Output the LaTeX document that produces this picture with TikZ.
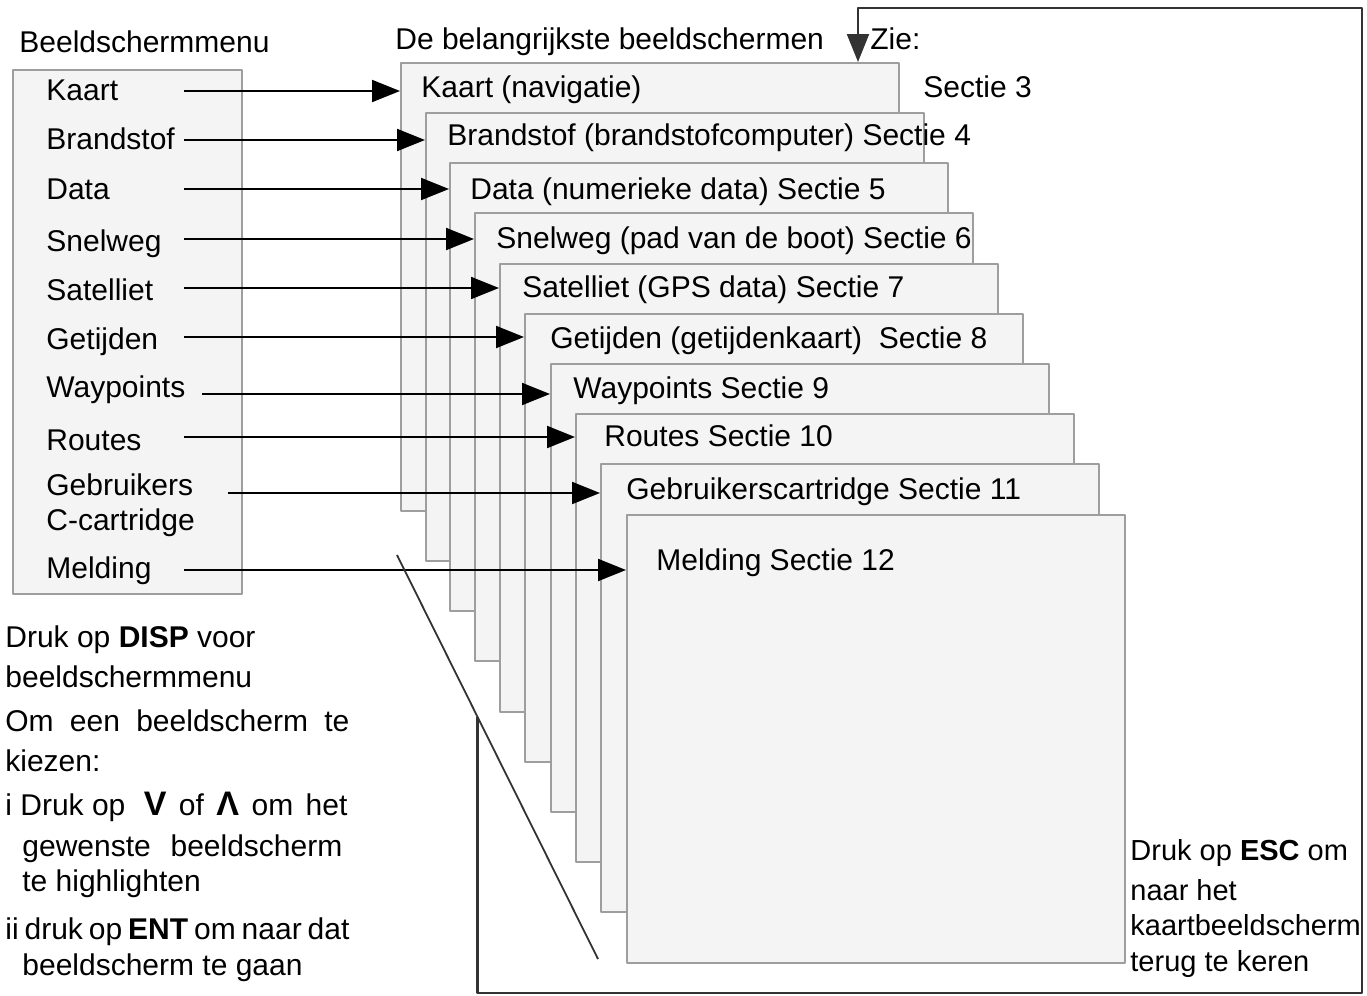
\documentclass[tikz,border=0pt]{standalone}
\usepackage{fontspec}
\setmainfont{Liberation Sans}
\usetikzlibrary{
    arrows.meta,
    calc,
    positioning
}
\definecolor{cardfill}{gray}{0.955}
\definecolor{cardedge}{gray}{0.62}
\definecolor{loopline}{gray}{0.2}

\begin{document}
\begin{tikzpicture}[x=0.5pt, y=-0.5pt, >={Triangle[length=14pt,width=11pt]}, line join=round]
  \def\cw{249pt}   % card width
  \def\ch{224pt}   % card height

  \tikzset{
    card/.style={draw=cardedge, fill=cardfill, line width=0.8pt, anchor=north west,
      inner sep=0pt, minimum width=\cw, minimum height=\ch},
    txt/.style={anchor=base west, inner sep=0pt, font=\fontsize{15}{18}\selectfont},
    para/.style={txt, align=left},
    link/.style={->, line width=1pt},
    back/.style={draw=loopline, line width=1.1pt}
  }
  \newcommand{\keysym}[1]{\textbf{\fontsize{17}{18}\selectfont #1}}

  \useasboundingbox (0,0) rectangle (1367,996);

  % Menu
  \node[txt] (mtitle) at (19,52) {Beeldschermmenu};
  \node[card, minimum width=114.5pt, minimum height=262pt] (menu) at (12,69) {};
  \node[txt] (m0) at (46,100) {Kaart};
  \node[txt] (m1) at (46,149) {Brandstof};
  \node[txt] (m2) at (46,199) {Data};
  \node[txt] (m3) at (46,251) {Snelweg};
  \node[txt] (m4) at (46,300) {Satelliet};
  \node[txt] (m5) at (46,349) {Getijden};
  \node[txt] (m6) at (46,397) {Waypoints};
  \node[txt] (m7) at (46,450) {Routes};
  \node[para] (m8) at (46,530) {Gebruikers\\[-0.5pt]C-cartridge};   % base = last line
  \node[txt] (m9) at (46,578) {Melding};

  % Stack of screens
  \node[txt] (stitle) at (395,49) {De belangrijkste beeldschermen};
  \node[txt] (zie) at (870,49) {Zie:};
  \node[txt] (s3) at (923,97) {Sectie 3};

  \node[card] (k0) at (400,62) {};
  \node[txt] (t0) at (421,97) {Kaart (navigatie)};
  \node[card] (k1) at (425,112) {};
  \node[txt] (t1) at (447,145) {Brandstof (brandstofcomputer) Sectie 4};
  \node[card] (k2) at (449,162) {};
  \node[txt] (t2) at (470,199) {Data (numerieke data) Sectie 5};
  \node[card] (k3) at (474,212) {};
  \node[txt] (t3) at (496,248) {Snelweg (pad van de boot) Sectie 6};
  \node[card] (k4) at (499,263) {};
  \node[txt] (t4) at (522,297) {Satelliet (GPS data) Sectie 7};
  \node[card] (k5) at (524,313) {};
  \node[txt] (t5) at (550,348) {Getijden (getijdenkaart)~ Sectie 8};
  \node[card] (k6) at (550,363) {};
  \node[txt] (t6) at (573,398) {Waypoints Sectie 9};
  \node[card] (k7) at (575,413) {};
  \node[txt] (t7) at (604,446) {Routes Sectie 10};
  \node[card] (k8) at (600,463) {};
  \node[txt] (t8) at (626,499) {Gebruikerscartridge Sectie 11};
  \node[card] (k9) at (626,514) {};
  \node[txt] (t9) at (656,570) {Melding Sectie 12};

  % Menu entries to screens
  \coordinate (a0) at (184,91);
  \coordinate (a1) at (184,140);
  \coordinate (a2) at (184,189);
  \coordinate (a3) at (184,239);
  \coordinate (a4) at (184,288);
  \coordinate (a5) at (184,337);
  \coordinate (a6) at (202,394);
  \coordinate (a7) at (184,437);
  \coordinate (a8) at (228,493);
  \coordinate (a9) at (184,570);
  \draw[link] (a0) -- (a0 -| k0.west);
  \draw[link] (a1) -- (a1 -| k1.west);
  \draw[link] (a2) -- (a2 -| k2.west);
  \draw[link] (a3) -- (a3 -| k3.west);
  \draw[link] (a4) -- (a4 -| k4.west);
  \draw[link] (a5) -- (a5 -| k5.west);
  \draw[link] (a6) -- (a6 -| k6.west);
  \draw[link] (a7) -- (a7 -| k7.west);
  \draw[link] (a8) -- (a8 -| k8.west);
  \draw[link] (a9) -- (a9 -| k9.west);

  % Side of the stack and the way back
  \coordinate (d0) at (397,555);
  \coordinate (d1) at (598,959);
  \draw[draw=loopline, line width=0.9pt] (d0) -- (d1);
  \coordinate (lp) at ($(d0)!0.4!(d1)$);
  \draw[back, ->] (lp) -- (lp |- 0,993) -| (1362,8) -| (858,0 |- k0.north);

  % Help texts (anchored on the baseline of their last line)
  \node[para] (help1) at (5,687) {Druk op \textbf{DISP} voor\\[2pt]beeldschermmenu};
  \node[para] (help2) at (5,771) {\makebox[172pt][s]{Om een beeldscherm te}\\[2pt]kiezen:};
  \node[para] (help3) at (5,891) {\makebox[171pt][s]{\mbox{i Druk op}\hspace{3pt} \keysym{V} of \keysym{Λ} om het}\\[2.5pt]
    \hspace*{8.5pt}\makebox[160pt][s]{gewenste beeldscherm}\\[-0.5pt]
    \hspace*{8.5pt}te highlighten};
  \node[para] (help4) at (5,975) {\makebox[172pt][s]{ii druk op \textbf{ENT} om naar dat}\\
    \hspace*{8.5pt}beeldscherm te gaan};
  \node[para, font=\fontsize{14.5}{18}\selectfont] (esc) at (1130,971)
    {Druk op \textbf{ESC} om\\[2pt]naar het\\[-0.5pt]kaartbeeldscherm\\terug te keren};
\end{tikzpicture}
\end{document}
